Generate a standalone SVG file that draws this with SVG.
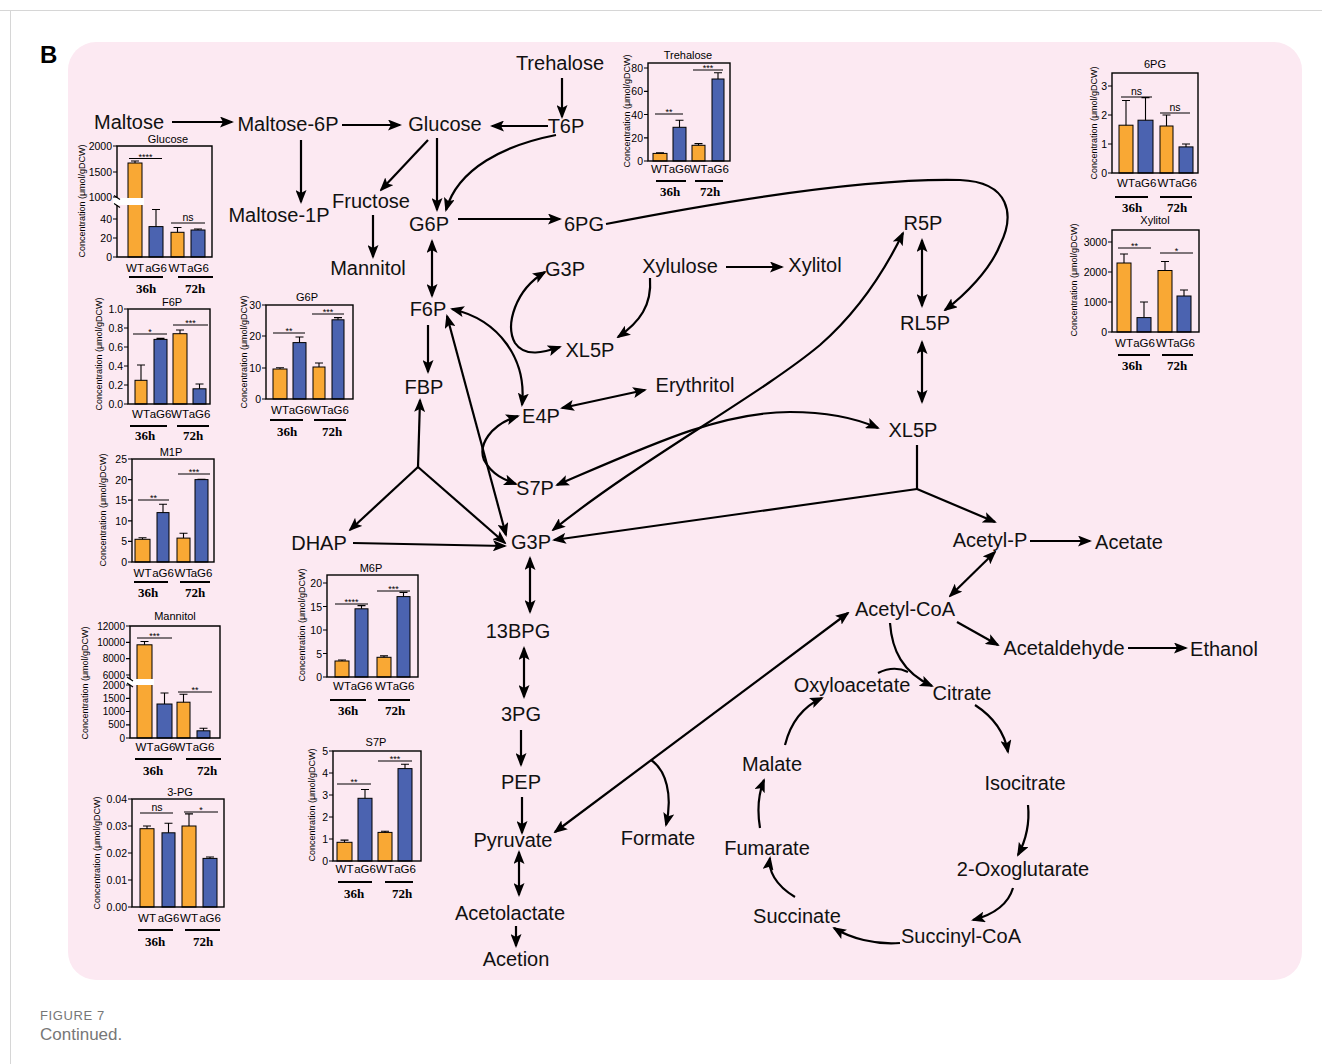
<svg xmlns="http://www.w3.org/2000/svg" width="1322" height="1064" viewBox="0 0 1322 1064">
<defs>
<marker id="ah" viewBox="0 0 14 11" refX="12" refY="5.5" markerWidth="14" markerHeight="11" markerUnits="userSpaceOnUse" orient="auto-start-reverse"><path d="M0,0 L14,5.5 L0,11 L3,5.5 z" fill="#000"/></marker>
<style>
.nd{font-family:"Liberation Sans",Arial,sans-serif;font-size:20px;fill:#111;text-anchor:middle}
.c1{fill:none;stroke:#000;stroke-width:2.2;marker-end:url(#ah)}
.c2{fill:none;stroke:#000;stroke-width:2.2;marker-end:url(#ah);marker-start:url(#ah)}
.c0{fill:none;stroke:#000;stroke-width:2.2}
.fr{fill:none;stroke:#000;stroke-width:1.4}
.tk{fill:none;stroke:#000;stroke-width:1.2}
.o{fill:#f9a834;stroke:#000;stroke-width:1}
.b{fill:#4b63b0;stroke:#000;stroke-width:1}
.eb{fill:none;stroke:#000;stroke-width:1.1}
.ln{fill:none;stroke:#000;stroke-width:1.1}
.ul{fill:none;stroke:#000;stroke-width:1.8}
.ct{font-family:"Liberation Sans",Arial,sans-serif;font-size:11px;text-anchor:middle;fill:#000}
.tl{font-family:"Liberation Sans",Arial,sans-serif;font-size:10.5px;text-anchor:end;fill:#000}
.yl{font-family:"Liberation Sans",Arial,sans-serif;font-size:9px;text-anchor:middle;fill:#000}
.xl{font-family:"Liberation Sans",Arial,sans-serif;font-size:11.5px;text-anchor:middle;fill:#000}
.hh{font-family:"Liberation Serif","Times New Roman",serif;font-size:13px;font-weight:bold;text-anchor:middle;fill:#000}
.sg{font-family:"Liberation Sans",Arial,sans-serif;font-size:9px;text-anchor:middle;fill:#000}
.ns{font-family:"Liberation Sans",Arial,sans-serif;font-size:10.5px;text-anchor:middle;fill:#000}
</style>
</defs>
<rect width="1322" height="1064" fill="#fff"/>
<path d="M0,10.5H1322M10.5,10.5V1064" stroke="#d6d6d6" stroke-width="1" fill="none"/>
<rect x="68" y="42" width="1234" height="938" rx="28" fill="#fce9f2"/>
<text x="40" y="63" font-family="Liberation Sans,Arial,sans-serif" font-size="24" font-weight="bold" fill="#000">B</text>
<text x="40" y="1020" font-family="Liberation Sans,Arial,sans-serif" font-size="13" fill="#777" letter-spacing="0.6">FIGURE 7</text>
<text x="40" y="1040" font-family="Liberation Sans,Arial,sans-serif" font-size="17" fill="#777">Continued.</text>

<g id="connectors">
<path class="c1" d="M172,122H232"/>
<path class="c1" d="M342,125H400"/>
<path class="c1" d="M548,126H492"/>
<path class="c1" d="M562,78V117"/>
<path class="c1" d="M301,140V202"/>
<path class="c1" d="M428,140L381,190"/>
<path class="c1" d="M437,138V210"/>
<path class="c1" d="M556,135C505,145 458,168 446,210"/>
<path class="c1" d="M373,215V257"/>
<path class="c1" d="M458,219H560"/>
<path class="c1" d="M606,224C750,196 880,178 960,180C1010,182 1015,215 1000,245C990,270 965,295 945,310"/>
<path class="c2" d="M432,241V296"/>
<path class="c1" d="M428,325V372"/>
<path class="c2" d="M447,316L506,535"/>
<path class="c2" d="M452,309C500,320 527,360 522,405"/>
<path class="c2" d="M545,272C515,290 505,325 515,343C525,358 545,352 560,347"/>
<path class="c1" d="M650,278C652,305 640,322 618,337"/>
<path class="c1" d="M726,267H782"/>
<path class="c2" d="M562,408L645,390"/>
<path class="c2" d="M518,416C490,425 478,445 484,460C492,475 505,480 516,484"/>
<path class="c2" d="M557,485C650,445 720,412 790,412C830,412 860,420 878,428"/>
<path class="c2" d="M553,530C640,460 760,395 820,345C860,310 885,270 903,233"/>
<path class="c2" d="M922,240V306"/>
<path class="c2" d="M922,342V402"/>
<path class="c0" d="M917,445V489"/>
<path class="c1" d="M917,489L554,540"/>
<path class="c1" d="M917,489L995,522"/>
<path class="c1" d="M418,467L420,400"/>
<path class="c1" d="M418,467L350,530"/>
<path class="c1" d="M418,467L505,543"/>
<path class="c1" d="M353,543L505,546"/>
<path class="c2" d="M530,558V612"/>
<path class="c2" d="M524,648V697"/>
<path class="c1" d="M521,730V765"/>
<path class="c1" d="M522,797V833"/>
<path class="c2" d="M555,832L848,613"/>
<path class="c1" d="M651,760C666,770 673,795 666,825"/>
<path class="c2" d="M519,852V895"/>
<path class="c1" d="M516,926V946"/>
<path class="c1" d="M1030,541H1090"/>
<path class="c2" d="M995,552L950,596"/>
<path class="c1" d="M957,622L998,645"/>
<path class="c1" d="M1128,648H1186"/>
<path class="c1" d="M890,623C892,650 902,672 932,686"/>
<path class="c0" d="M878,673C888,668 898,667 908,672"/>
<path class="c1" d="M975,705C995,718 1005,735 1008,752"/>
<path class="c1" d="M1028,805C1030,825 1025,842 1018,855"/>
<path class="c1" d="M1013,888C1008,905 992,915 973,920"/>
<path class="c1" d="M900,943C875,945 850,938 834,928"/>
<path class="c1" d="M795,897C775,885 768,870 770,858"/>
<path class="c1" d="M760,828C757,810 758,795 764,780"/>
<path class="c1" d="M785,745C790,725 800,708 822,698"/>
</g>

<g id="n-maltose"><text class="nd" x="129" y="129">Maltose</text></g>
<g id="n-maltose6p"><text class="nd" x="288" y="131">Maltose-6P</text></g>
<g id="n-glucose"><text class="nd" x="445" y="131">Glucose</text></g>
<g id="n-t6p"><text class="nd" x="566" y="133">T6P</text></g>
<g id="n-trehalose"><text class="nd" x="560" y="70">Trehalose</text></g>
<g id="n-maltose1p"><text class="nd" x="279" y="222">Maltose-1P</text></g>
<g id="n-fructose"><text class="nd" x="371" y="208">Fructose</text></g>
<g id="n-mannitol"><text class="nd" x="368" y="275">Mannitol</text></g>
<g id="n-g6p"><text class="nd" x="429" y="231">G6P</text></g>
<g id="n-6pg"><text class="nd" x="584" y="231">6PG</text></g>
<g id="n-f6p"><text class="nd" x="428" y="316">F6P</text></g>
<g id="n-fbp"><text class="nd" x="424" y="394">FBP</text></g>
<g id="n-g3p-top"><text class="nd" x="565" y="276">G3P</text></g>
<g id="n-xylulose"><text class="nd" x="680" y="273">Xylulose</text></g>
<g id="n-xylitol"><text class="nd" x="815" y="272">Xylitol</text></g>
<g id="n-xl5p-top"><text class="nd" x="590" y="357">XL5P</text></g>
<g id="n-e4p"><text class="nd" x="541" y="423">E4P</text></g>
<g id="n-erythritol"><text class="nd" x="695" y="392">Erythritol</text></g>
<g id="n-s7p"><text class="nd" x="535" y="495">S7P</text></g>
<g id="n-r5p"><text class="nd" x="923" y="230">R5P</text></g>
<g id="n-rl5p"><text class="nd" x="925" y="330">RL5P</text></g>
<g id="n-xl5p-right"><text class="nd" x="913" y="437">XL5P</text></g>
<g id="n-dhap"><text class="nd" x="319" y="550">DHAP</text></g>
<g id="n-g3p"><text class="nd" x="531" y="549">G3P</text></g>
<g id="n-13bpg"><text class="nd" x="518" y="638">13BPG</text></g>
<g id="n-3pg"><text class="nd" x="521" y="721">3PG</text></g>
<g id="n-pep"><text class="nd" x="521" y="789">PEP</text></g>
<g id="n-pyruvate"><text class="nd" x="513" y="847">Pyruvate</text></g>
<g id="n-formate"><text class="nd" x="658" y="845">Formate</text></g>
<g id="n-acetolactate"><text class="nd" x="510" y="920">Acetolactate</text></g>
<g id="n-acetion"><text class="nd" x="516" y="966">Acetion</text></g>
<g id="n-acetylp"><text class="nd" x="990" y="547">Acetyl-P</text></g>
<g id="n-acetate"><text class="nd" x="1129" y="549">Acetate</text></g>
<g id="n-acetylcoa"><text class="nd" x="905" y="616">Acetyl-CoA</text></g>
<g id="n-acetaldehyde"><text class="nd" x="1064" y="655">Acetaldehyde</text></g>
<g id="n-ethanol"><text class="nd" x="1224" y="656">Ethanol</text></g>
<g id="n-oxyloacetate"><text class="nd" x="852" y="692">Oxyloacetate</text></g>
<g id="n-citrate"><text class="nd" x="962" y="700">Citrate</text></g>
<g id="n-isocitrate"><text class="nd" x="1025" y="790">Isocitrate</text></g>
<g id="n-2og"><text class="nd" x="1023" y="876">2-Oxoglutarate</text></g>
<g id="n-succinylcoa"><text class="nd" x="961" y="943">Succinyl-CoA</text></g>
<g id="n-succinate"><text class="nd" x="797" y="923">Succinate</text></g>
<g id="n-fumarate"><text class="nd" x="767" y="855">Fumarate</text></g>
<g id="n-malate"><text class="nd" x="772" y="771">Malate</text></g>

<!-- Glucose chart -->
<g id="chart-glucose">
<text class="ct" x="168" y="143">Glucose</text>
<text class="yl" font-size="10" transform="translate(85,201) rotate(-90)">Concentration (μmol/gDCW)</text>
<rect class="o" x="128" y="163" width="14" height="94"/>
<rect class="b" x="149" y="226.6" width="14" height="30.4"/>
<rect class="o" x="171" y="232.3" width="13" height="24.7"/>
<rect class="b" x="191" y="230" width="14" height="27"/>
<path class="eb" d="M135,163V161M131,161H139M156,226.6V209.5M152,209.5H160M177.5,232.3V227.5M173.5,227.5H181.5M198,230V229M194,229H202"/>
<rect x="113" y="198" width="31" height="7" fill="#fff"/>
<path class="fr" d="M117,198V146H212V257H117V205"/>
<path class="tk" d="M114,195.5L120,199.5M114,203.5L120,207.5"/>
<path class="tk" d="M113,146H117M113,172H117M113,197H117M113,219H117M113,238H117M113,257H117"/>
<text class="tl" x="112" y="150">2000</text><text class="tl" x="112" y="176">1500</text><text class="tl" x="112" y="201">1000</text><text class="tl" x="112" y="223">40</text><text class="tl" x="112" y="242">20</text><text class="tl" x="112" y="261">0</text>
<path class="ln" d="M129,158.5H162M171,223H205"/>
<text class="sg" x="145.5" y="160">****</text><text class="ns" x="188" y="221">ns</text>
<text class="xl" x="135" y="272">WT</text><text class="xl" x="156" y="272">aG6</text><text class="xl" x="177.5" y="272">WT</text><text class="xl" x="198" y="272">aG6</text>
<path class="ul" d="M129,277H163M178,277H213"/>
<text class="hh" x="146" y="293">36h</text><text class="hh" x="195" y="293">72h</text>
</g>

<!-- F6P chart -->
<g id="chart-f6p">
<text class="ct" x="172" y="306">F6P</text>
<text class="yl" transform="translate(102,354) rotate(-90)">Concentration (μmol/gDCW)</text>
<rect class="o" x="135" y="380.3" width="12" height="23.7"/>
<rect class="b" x="154" y="339.4" width="13" height="64.6"/>
<rect class="o" x="173" y="333.7" width="14" height="70.3"/>
<rect class="b" x="193" y="388.8" width="13" height="15.2"/>
<path class="eb" d="M141,380.3V365M137,365H145M160.5,339.4V338.4M156.5,338.4H164.5M180,333.7V330M176,330H184M199.5,388.8V384M195.5,384H203.5"/>
<rect class="fr" x="128" y="309" width="82" height="95"/>
<path class="tk" d="M124,309H128M124,328H128M124,347H128M124,366H128M124,385H128M124,404H128"/>
<text class="tl" x="123" y="313">1.0</text><text class="tl" x="123" y="332">0.8</text><text class="tl" x="123" y="351">0.6</text><text class="tl" x="123" y="370">0.4</text><text class="tl" x="123" y="389">0.2</text><text class="tl" x="123" y="408">0.0</text>
<path class="ln" d="M133,334H167M173,325H208"/>
<text class="sg" x="150" y="335">*</text><text class="sg" x="190.5" y="326">***</text>
<text class="xl" x="141" y="418">WT</text><text class="xl" x="160.5" y="418">aG6</text><text class="xl" x="180" y="418">WT</text><text class="xl" x="199.5" y="418">aG6</text>
<path class="ul" d="M130,426H167M177,426H209"/>
<text class="hh" x="145" y="440">36h</text><text class="hh" x="193" y="440">72h</text>
</g>

<!-- G6P chart -->
<g id="chart-g6p">
<text class="ct" x="307" y="301">G6P</text>
<text class="yl" transform="translate(247,352) rotate(-90)">Concentration (μmol/gDCW)</text>
<rect class="o" x="273" y="369" width="14" height="30"/>
<rect class="b" x="293" y="342.6" width="13" height="56.4"/>
<rect class="o" x="313" y="367" width="12" height="32"/>
<rect class="b" x="332" y="319.8" width="12" height="79.2"/>
<path class="eb" d="M280,369V367.7M276,367.7H284M299.5,342.6V337M295.5,337H303.5M319,367V363M315,363H323M338,319.8V317.6M334,317.6H342"/>
<rect class="fr" x="266" y="305" width="87" height="94"/>
<path class="tk" d="M262,305H266M262,336H266M262,368H266M262,399H266"/>
<text class="tl" x="261" y="309">30</text><text class="tl" x="261" y="340">20</text><text class="tl" x="261" y="372">10</text><text class="tl" x="261" y="403">0</text>
<path class="ln" d="M273,333H305M312,314H344"/>
<text class="sg" x="289" y="334">**</text><text class="sg" x="328" y="315">***</text>
<text class="xl" x="280" y="414">WT</text><text class="xl" x="299.5" y="414">aG6</text><text class="xl" x="319" y="414">WT</text><text class="xl" x="338" y="414">aG6</text>
<path class="ul" d="M270,420H303M314,420H346"/>
<text class="hh" x="287" y="436">36h</text><text class="hh" x="332" y="436">72h</text>
</g>

<!-- M1P chart -->
<g id="chart-m1p">
<text class="ct" x="171" y="456">M1P</text>
<text class="yl" transform="translate(106,510) rotate(-90)">Concentration (μmol/gDCW)</text>
<rect class="o" x="135" y="539.3" width="15" height="22.7"/>
<rect class="b" x="157" y="512.6" width="12" height="49.4"/>
<rect class="o" x="177" y="538.1" width="13" height="23.9"/>
<rect class="b" x="195" y="479.6" width="13" height="82.4"/>
<path class="eb" d="M142.5,539.3V537.7M138.5,537.7H146.5M163,512.6V504.3M159,504.3H167M183.5,538.1V533.2M179.5,533.2H187.5M201.5,479.6V479.2M197.5,479.2H205.5"/>
<rect class="fr" x="132" y="459" width="82" height="103"/>
<path class="tk" d="M128,459H132M128,479.6H132M128,500.2H132M128,520.8H132M128,541.4H132M128,562H132"/>
<text class="tl" x="127" y="463">25</text><text class="tl" x="127" y="483.6">20</text><text class="tl" x="127" y="504.2">15</text><text class="tl" x="127" y="524.8">10</text><text class="tl" x="127" y="545.4">5</text><text class="tl" x="127" y="566">0</text>
<path class="ln" d="M138,500H169M178,474H210"/>
<text class="sg" x="153.5" y="501">**</text><text class="sg" x="194" y="475">***</text>
<text class="xl" x="142.5" y="577">WT</text><text class="xl" x="163" y="577">aG6</text><text class="xl" x="183.5" y="577">WT</text><text class="xl" x="201.5" y="577">aG6</text>
<path class="ul" d="M134,582H168M180,582H210"/>
<text class="hh" x="148" y="597">36h</text><text class="hh" x="195" y="597">72h</text>
</g>

<!-- Mannitol chart -->
<g id="chart-mannitol">
<text class="ct" x="175" y="620">Mannitol</text>
<text class="yl" font-size="9.5" transform="translate(88,683) rotate(-90)">Concentration (μmol/gDCW)</text>
<rect class="o" x="137" y="644.8" width="15" height="93.2"/>
<rect class="b" x="157" y="704" width="15" height="34"/>
<rect class="o" x="177" y="702.2" width="13" height="35.8"/>
<rect class="b" x="197" y="730.8" width="13" height="7.2"/>
<path class="eb" d="M144.5,644.8V641.5M140.5,641.5H148.5M164.5,704V693M160.5,693H168.5M183.5,702.2V694.3M179.5,694.3H187.5M203.5,730.8V728.2M199.5,728.2H207.5"/>
<rect x="126" y="679" width="28" height="6" fill="#fff"/>
<path class="fr" d="M130,679V626H220V738H130V685"/>
<path class="tk" d="M127,677L133,681M127,683L133,687"/>
<path class="tk" d="M126,626H130M126,642.3H130M126,658.7H130M126,675H130M126,685H130M126,698.3H130M126,711.5H130M126,724.8H130M126,738H130"/>
<text class="tl" style="font-size:10px" x="125" y="629.5">12000</text><text class="tl" style="font-size:10px" x="125" y="645.8">10000</text><text class="tl" style="font-size:10px" x="125" y="662.2">8000</text><text class="tl" style="font-size:10px" x="125" y="678.5">6000</text><text class="tl" style="font-size:10px" x="125" y="688.5">2000</text><text class="tl" style="font-size:10px" x="125" y="701.8">1500</text><text class="tl" style="font-size:10px" x="125" y="715">1000</text><text class="tl" style="font-size:10px" x="125" y="728.3">500</text><text class="tl" style="font-size:10px" x="125" y="741.5">0</text>
<path class="ln" d="M137,638H172M178,692H212"/>
<text class="sg" x="154.5" y="639">***</text><text class="sg" x="195" y="693">**</text>
<text class="xl" x="144.5" y="751">WT</text><text class="xl" x="164.5" y="751">aG6</text><text class="xl" x="183.5" y="751">WT</text><text class="xl" x="203.5" y="751">aG6</text>
<path class="ul" d="M135,759H172M186,759H221"/>
<text class="hh" x="153" y="775">36h</text><text class="hh" x="207" y="775">72h</text>
</g>

<!-- 3-PG chart -->
<g id="chart-3pg">
<text class="ct" x="180" y="796">3-PG</text>
<text class="yl" transform="translate(100,853) rotate(-90)">Concentration (μmol/gDCW)</text>
<rect class="o" x="140" y="828.7" width="14" height="78.3"/>
<rect class="b" x="162" y="832.8" width="13" height="74.2"/>
<rect class="o" x="182" y="826" width="14" height="81"/>
<rect class="b" x="203" y="858.4" width="14" height="48.6"/>
<path class="eb" d="M147,828.7V826M143,826H151M168.5,832.8V823.3M164.5,823.3H172.5M189,826V813.9M185,813.9H193M210,858.4V857M206,857H214"/>
<rect class="fr" x="132" y="799" width="92" height="108"/>
<path class="tk" d="M128,799H132M128,826H132M128,853H132M128,880H132M128,907H132"/>
<text class="tl" x="127" y="803">0.04</text><text class="tl" x="127" y="830">0.03</text><text class="tl" x="127" y="857">0.02</text><text class="tl" x="127" y="884">0.01</text><text class="tl" x="127" y="911">0.00</text>
<path class="ln" d="M140,813H173M184,812H218"/>
<text class="ns" x="157" y="811">ns</text><text class="sg" x="201" y="813">*</text>
<text class="xl" x="147" y="922">WT</text><text class="xl" x="168.5" y="922">aG6</text><text class="xl" x="189" y="922">WT</text><text class="xl" x="210" y="922">aG6</text>
<path class="ul" d="M138,930H173M185,930H220"/>
<text class="hh" x="155" y="946">36h</text><text class="hh" x="203" y="946">72h</text>
</g>

<!-- M6P chart -->
<g id="chart-m6p">
<text class="ct" x="371" y="572">M6P</text>
<text class="yl" transform="translate(305,625) rotate(-90)">Concentration (μmol/gDCW)</text>
<rect class="o" x="335" y="661" width="14" height="16"/>
<rect class="b" x="355" y="608.8" width="13" height="68.2"/>
<rect class="o" x="377" y="657.3" width="14" height="19.7"/>
<rect class="b" x="397" y="596.6" width="13" height="80.4"/>
<path class="eb" d="M342,661V660M338,660H346M361.5,608.8V605.6M357.5,605.6H365.5M384,657.3V655.9M380,655.9H388M403.5,596.6V592.4M399.5,592.4H407.5"/>
<rect class="fr" x="327" y="575" width="91" height="102"/>
<path class="tk" d="M323,583H327M323,606.5H327M323,630H327M323,653.5H327M323,677H327"/>
<text class="tl" x="322" y="587">20</text><text class="tl" x="322" y="610.5">15</text><text class="tl" x="322" y="634">10</text><text class="tl" x="322" y="657.5">5</text><text class="tl" x="322" y="681">0</text>
<path class="ln" d="M335,604H368M377,591H410"/>
<text class="sg" x="351.5" y="605">****</text><text class="sg" x="393.5" y="592">***</text>
<text class="xl" x="342" y="690">WT</text><text class="xl" x="361.5" y="690">aG6</text><text class="xl" x="384" y="690">WT</text><text class="xl" x="403.5" y="690">aG6</text>
<path class="ul" d="M330,700H366M378,700H410"/>
<text class="hh" x="348" y="715">36h</text><text class="hh" x="395" y="715">72h</text>
</g>

<!-- S7P chart -->
<g id="chart-s7p">
<text class="ct" x="376" y="746">S7P</text>
<text class="yl" transform="translate(315,805) rotate(-90)">Concentration (μmol/gDCW)</text>
<rect class="o" x="337" y="842.3" width="15" height="18.7"/>
<rect class="b" x="358" y="798.3" width="14" height="62.7"/>
<rect class="o" x="378" y="832.4" width="14" height="28.6"/>
<rect class="b" x="398" y="768.6" width="14" height="92.4"/>
<path class="eb" d="M344.5,842.3V840.1M340.5,840.1H348.5M365,798.3V789.5M361,789.5H369M385,832.4V831.3M381,831.3H389M405,768.6V764.2M401,764.2H409"/>
<rect class="fr" x="333" y="751" width="88" height="110"/>
<path class="tk" d="M329,751H333M329,773H333M329,795H333M329,817H333M329,839H333M329,861H333"/>
<text class="tl" x="328" y="755">5</text><text class="tl" x="328" y="777">4</text><text class="tl" x="328" y="799">3</text><text class="tl" x="328" y="821">2</text><text class="tl" x="328" y="843">1</text><text class="tl" x="328" y="865">0</text>
<path class="ln" d="M337,784H371M378,761H412"/>
<text class="sg" x="354" y="785">**</text><text class="sg" x="395" y="762">***</text>
<text class="xl" x="344.5" y="873">WT</text><text class="xl" x="365" y="873">aG6</text><text class="xl" x="385" y="873">WT</text><text class="xl" x="405" y="873">aG6</text>
<path class="ul" d="M338,882H372M385,882H413"/>
<text class="hh" x="354" y="898">36h</text><text class="hh" x="402" y="898">72h</text>
</g>

<!-- Trehalose chart -->
<g id="chart-trehalose">
<text class="ct" x="688" y="59">Trehalose</text>
<text class="yl" transform="translate(630,111) rotate(-90)">Concentration (μmol/gDCW)</text>
<rect class="o" x="653" y="153.4" width="14" height="7.6"/>
<rect class="b" x="673" y="127.3" width="13" height="33.7"/>
<rect class="o" x="692" y="145.3" width="13" height="15.7"/>
<rect class="b" x="712" y="79" width="12" height="82"/>
<path class="eb" d="M660,153.4V152.9M656,152.9H664M679.5,127.3V120.3M675.5,120.3H683.5M698.5,145.3V143.6M694.5,143.6H702.5M718,79V72.7M714,72.7H722"/>
<rect class="fr" x="648" y="63" width="82" height="98"/>
<path class="tk" d="M644,68H648M644,91.3H648M644,114.5H648M644,137.8H648M644,161H648"/>
<text class="tl" x="643" y="72">80</text><text class="tl" x="643" y="95.3">60</text><text class="tl" x="643" y="118.5">40</text><text class="tl" x="643" y="141.8">20</text><text class="tl" x="643" y="165">0</text>
<path class="ln" d="M655,114H683M693,70H723"/>
<text class="sg" x="669" y="115">**</text><text class="sg" x="708" y="71">***</text>
<text class="xl" x="660" y="173">WT</text><text class="xl" x="679.5" y="173">aG6</text><text class="xl" x="698.5" y="173">WT</text><text class="xl" x="718" y="173">aG6</text>
<path class="ul" d="M656,181H686M695,181H723"/>
<text class="hh" x="670" y="196">36h</text><text class="hh" x="710" y="196">72h</text>
</g>

<!-- 6PG chart -->
<g id="chart-6pg">
<text class="ct" x="1155" y="68">6PG</text>
<text class="yl" transform="translate(1097,123) rotate(-90)">Concentration (μmol/gDCW)</text>
<rect class="o" x="1119" y="125.2" width="14" height="47.8"/>
<rect class="b" x="1138" y="120.2" width="15" height="52.8"/>
<rect class="o" x="1160" y="126" width="13" height="47"/>
<rect class="b" x="1179" y="146.9" width="14" height="26.1"/>
<path class="eb" d="M1126,125.2V100.5M1122,100.5H1130M1145.5,120.2V97.6M1141.5,97.6H1149.5M1166.5,126V115M1162.5,115H1170.5M1186,146.9V144M1182,144H1190"/>
<rect class="fr" x="1112" y="73" width="86" height="100"/>
<path class="tk" d="M1108,86H1112M1108,115H1112M1108,144H1112M1108,173H1112"/>
<text class="tl" x="1107" y="90">3</text><text class="tl" x="1107" y="119">2</text><text class="tl" x="1107" y="148">1</text><text class="tl" x="1107" y="177">0</text>
<path class="ln" d="M1121,97H1152M1160,113H1190"/>
<text class="ns" x="1136.5" y="95">ns</text><text class="ns" x="1175" y="111">ns</text>
<text class="xl" x="1126" y="187">WT</text><text class="xl" x="1145.5" y="187">aG6</text><text class="xl" x="1166.5" y="187">WT</text><text class="xl" x="1186" y="187">aG6</text>
<path class="ul" d="M1115,197H1148M1160,197H1192"/>
<text class="hh" x="1132" y="212">36h</text><text class="hh" x="1177" y="212">72h</text>
</g>

<!-- Xylitol chart -->
<g id="chart-xylitol">
<text class="ct" x="1155" y="224">Xylitol</text>
<text class="yl" transform="translate(1077,280) rotate(-90)">Concentration (μmol/gDCW)</text>
<rect class="o" x="1117" y="263" width="14" height="69"/>
<rect class="b" x="1137" y="317.6" width="14" height="14.4"/>
<rect class="o" x="1158" y="270.5" width="14" height="61.5"/>
<rect class="b" x="1177" y="296" width="14" height="36"/>
<path class="eb" d="M1124,263V254M1120,254H1128M1144,317.6V302M1140,302H1148M1165,270.5V261.5M1161,261.5H1169M1184,296V290M1180,290H1188"/>
<rect class="fr" x="1112" y="230" width="87" height="102"/>
<path class="tk" d="M1108,242H1112M1108,272H1112M1108,302H1112M1108,332H1112"/>
<text class="tl" x="1107" y="246">3000</text><text class="tl" x="1107" y="276">2000</text><text class="tl" x="1107" y="306">1000</text><text class="tl" x="1107" y="336">0</text>
<path class="ln" d="M1118,248H1151M1160,253H1193"/>
<text class="sg" x="1134.5" y="249">**</text><text class="sg" x="1176.5" y="254">*</text>
<text class="xl" x="1124" y="347">WT</text><text class="xl" x="1144" y="347">aG6</text><text class="xl" x="1165" y="347">WT</text><text class="xl" x="1184" y="347">aG6</text>
<path class="ul" d="M1118,355H1150M1162,355H1193"/>
<text class="hh" x="1132" y="370">36h</text><text class="hh" x="1177" y="370">72h</text>
</g>
</svg>
